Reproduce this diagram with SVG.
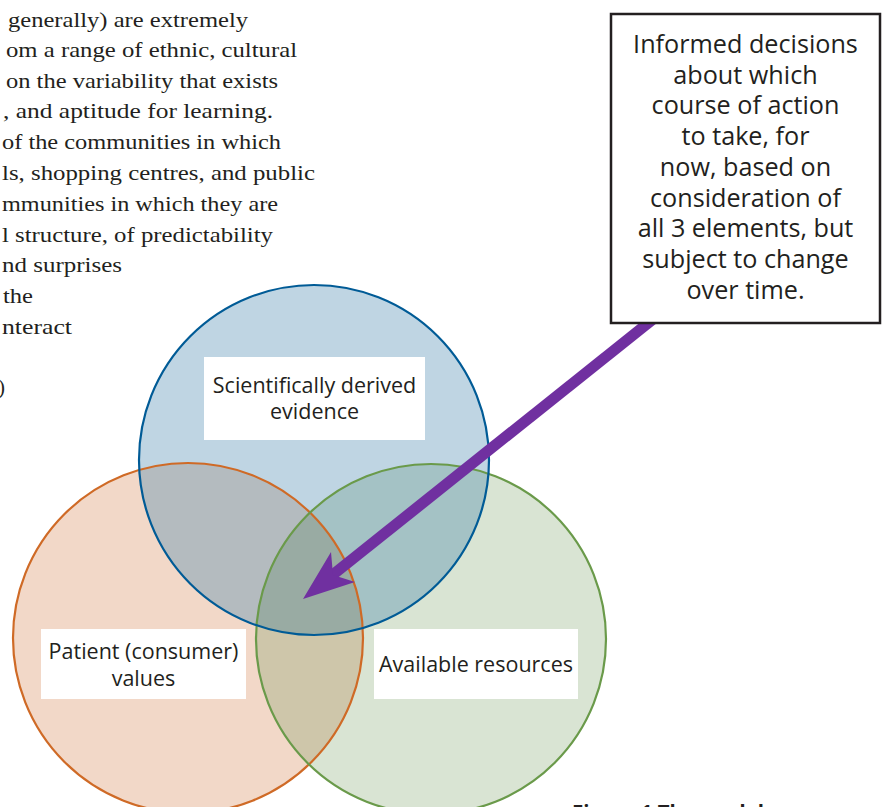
<svg xmlns="http://www.w3.org/2000/svg" width="882" height="807" viewBox="0 0 882 807">
  <style>
    .body { font-family: "Liberation Serif", "Times New Roman", serif; font-size: 21px; fill: #231f20; }
    .lbl { font-family: "Open Sans", "Noto Sans", sans-serif; font-size: 21.5px; fill: #231f20; text-anchor: middle; }
    .big { font-family: "Open Sans", "Noto Sans", sans-serif; font-size: 25.2px; fill: #231f20; text-anchor: middle; }
    .cap { font-family: "Open Sans", "Noto Sans", sans-serif; font-size: 22px; font-weight: bold; fill: #231f20; }
    .box { fill: #ffffff; }
    .ring { fill: none; stroke-width: 2.2; }
  </style>
  <defs>
    <circle id="cBlue" cx="314" cy="460" r="175"/>
    <circle id="cOrange" cx="188" cy="638" r="175"/>
    <circle id="cGreen" cx="431" cy="639" r="175"/>
    <clipPath id="clipBlue"><use href="#cBlue"/></clipPath>
    <clipPath id="clipOrange"><use href="#cOrange"/></clipPath>
    <clipPath id="clipGreen"><use href="#cGreen"/></clipPath>
  </defs>

  <rect width="882" height="807" fill="#ffffff"/>

  <!-- running text of the page, cut at the left margin -->
  <g id="page-text" class="body">
    <text x="8" y="27" textLength="240" lengthAdjust="spacingAndGlyphs">generally) are extremely</text>
    <text x="6" y="57" textLength="291" lengthAdjust="spacingAndGlyphs">om a range of ethnic, cultural</text>
    <text x="6" y="88" textLength="272" lengthAdjust="spacingAndGlyphs">on the variability that exists</text>
    <text x="3" y="118" textLength="270" lengthAdjust="spacingAndGlyphs">, and aptitude for learning.</text>
    <text x="2" y="149" textLength="279" lengthAdjust="spacingAndGlyphs">of the communities in which</text>
    <text x="2" y="180" textLength="313" lengthAdjust="spacingAndGlyphs">ls, shopping centres, and public</text>
    <text x="2" y="211" textLength="276" lengthAdjust="spacingAndGlyphs">mmunities in which they are</text>
    <text x="2" y="242" textLength="271" lengthAdjust="spacingAndGlyphs">l structure, of predictability</text>
    <text x="2" y="272" textLength="120" lengthAdjust="spacingAndGlyphs">nd surprises</text>
    <text x="3" y="303" textLength="30" lengthAdjust="spacingAndGlyphs">the</text>
    <text x="2" y="334" textLength="70" lengthAdjust="spacingAndGlyphs">nteract</text>
    <text x="-2" y="394">)</text>
  </g>

  <!-- circle fills, with the overlaps tinted separately -->
  <g id="fills">
    <use href="#cOrange" fill="#f2d8c8"/>
    <use href="#cGreen" fill="#d9e4d3"/>
    <use href="#cBlue" fill="#bfd5e3"/>
    <g clip-path="url(#clipBlue)">
      <use href="#cOrange" fill="#b4bbbf"/>
      <use href="#cGreen" fill="#a4c2c5"/>
    </g>
    <g clip-path="url(#clipOrange)">
      <use href="#cGreen" fill="#cec6aa"/>
      <g clip-path="url(#clipBlue)">
        <use href="#cGreen" fill="#99aba3"/>
      </g>
    </g>
  </g>

  <g id="node-patient-values">
    <use href="#cOrange" class="ring" stroke="#cf6a26"/>
  </g>
  <g id="node-available-resources">
    <use href="#cGreen" class="ring" stroke="#6a9a4a"/>
  </g>
  <g id="node-evidence">
    <use href="#cBlue" class="ring" stroke="#005b96"/>
  </g>

  <!-- labels -->
  <g id="label-evidence">
    <rect class="box" x="204" y="357" width="221" height="83"/>
    <text class="lbl" x="314.5" y="393">Scientifically derived</text>
    <text class="lbl" x="314.5" y="419">evidence</text>
  </g>
  <g id="label-patient">
    <rect class="box" x="41" y="629" width="205" height="70"/>
    <text class="lbl" x="143.5" y="659">Patient (consumer)</text>
    <text class="lbl" x="143.5" y="686">values</text>
  </g>
  <g id="label-resources">
    <rect class="box" x="374" y="629" width="204" height="70"/>
    <text class="lbl" x="476" y="672">Available resources</text>
  </g>

  <!-- connector -->
  <g id="connectors">
    <line x1="330" y1="577" x2="662" y2="312" stroke="#7030a0" stroke-width="11"/>
    <polygon points="303,599 331,552 333,575 355,582" fill="#7030a0"/>
  </g>

  <g id="node-decision">
    <rect x="611" y="14" width="269" height="309" fill="#ffffff" stroke="#231f20" stroke-width="2.5"/>
    <text class="big" x="745.5" y="53">Informed decisions</text>
    <text class="big" x="745.5" y="84">about which</text>
    <text class="big" x="745.5" y="114">course of action</text>
    <text class="big" x="745.5" y="145">to take, for</text>
    <text class="big" x="745.5" y="176">now, based on</text>
    <text class="big" x="745.5" y="207">consideration of</text>
    <text class="big" x="745.5" y="237">all 3 elements, but</text>
    <text class="big" x="745.5" y="268">subject to change</text>
    <text class="big" x="745.5" y="299">over time.</text>
  </g>

  <text class="cap" x="572" y="820" textLength="192" lengthAdjust="spacingAndGlyphs">Figure 1 The model</text>
</svg>
